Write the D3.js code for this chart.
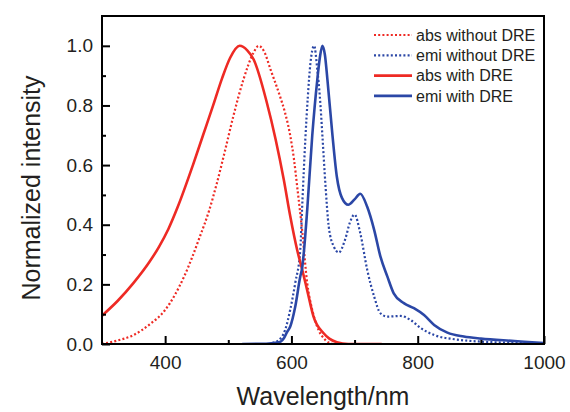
<!DOCTYPE html>
<html>
<head>
<meta charset="utf-8">
<script src="https://cdn.jsdelivr.net/npm/d3@7"></script>
<style>
  html, body { margin: 0; padding: 0; background: #fff; }
  svg { display: block; }
  text { font-family: "Liberation Sans", Arial, Helvetica, sans-serif; fill: #231f20; }
</style>
</head>
<body>
<svg id="chart" width="570" height="412"></svg>
<script>
// ---- data ----
const absWithoutWl = [300,325,350,375,400,430,455,470,482,495,508,524,540,548,557,567,582,590,598,604,609,617,625,633,643,654,665];
const absWithoutVal = [0.0,0.012,0.03,0.065,0.114,0.226,0.36,0.45,0.54,0.65,0.764,0.887,0.977,1.0,0.98,0.92,0.83,0.775,0.70,0.62,0.53,0.38,0.204,0.114,0.047,0.013,0.0];

const emiWithoutWl = [570,580,590,598,606,614,617,622,626,630,636,641,645,649,654,659,667,675,685,693,700,709,720,731,741,752,763,773,789,805,826,858,900,950,990];
const emiWithoutVal = [0.004,0.013,0.047,0.114,0.204,0.316,0.46,0.686,0.83,0.94,1.0,0.92,0.83,0.70,0.53,0.395,0.327,0.307,0.35,0.41,0.434,0.372,0.249,0.159,0.103,0.092,0.093,0.094,0.08,0.053,0.03,0.016,0.008,0.004,0.002];

const absWithWl = [300,325,350,375,390,405,420,444,460,476,490,503,518,530,540,561,575,588,598,609,617,625,635,651,660,672,690,743];
const absWithVal = [0.095,0.145,0.205,0.275,0.325,0.385,0.46,0.60,0.70,0.80,0.89,0.96,1.0,0.985,0.955,0.81,0.686,0.55,0.43,0.316,0.25,0.18,0.092,0.036,0.018,0.006,0.0,0.0];

const emiWithWl = [522,560,575,583,588,593,598,606,614,617,620,625,633,641,645,649,653,657,665,672,680,690,700,709,720,731,741,752,762,778,794,810,826,847,873,900,953,1000];
const emiWithVal = [0.0,0.001,0.004,0.008,0.019,0.04,0.058,0.125,0.226,0.255,0.316,0.45,0.70,0.887,0.96,1.0,0.97,0.887,0.70,0.56,0.49,0.467,0.485,0.504,0.46,0.383,0.293,0.226,0.17,0.137,0.12,0.097,0.064,0.038,0.025,0.018,0.01,0.003];

const seriesNames = ["abs without DRE", "emi without DRE", "abs with DRE", "emi with DRE"];
const xTickValues = [400, 600, 800, 1000];
const xMinorTicks = [500, 700, 900];
const yTickValues = [0.0, 0.2, 0.4, 0.6, 0.8, 1.0];
const yMinorTicks = [0.1, 0.3, 0.5, 0.7, 0.9];

// ---- layout ----
const RED = "#ee2a24", BLUE = "#2b47a6";
const svg = d3.select("#chart");
const L = 102, T = 16, R = 544, B = 344;
const x = d3.scaleLinear().domain([300, 1000]).range([L, R]);
const y = d3.scaleLinear().domain([0, 1.1]).range([B, T]);

const series = [
  { name: seriesNames[0], wl: absWithoutWl, v: absWithoutVal, color: RED, dotted: true },
  { name: seriesNames[1], wl: emiWithoutWl, v: emiWithoutVal, color: BLUE, dotted: true },
  { name: seriesNames[2], wl: absWithWl, v: absWithVal, color: RED, dotted: false },
  { name: seriesNames[3], wl: emiWithWl, v: emiWithVal, color: BLUE, dotted: false }
];

const line = d3.line().x(d => x(d[0])).y(d => y(d[1])).curve(d3.curveMonotoneX);

const plot = svg.append("g");
plot.append("clipPath").attr("id", "clip").append("rect")
  .attr("x", L).attr("y", T).attr("width", R - L).attr("height", B - T);

series.forEach(s => {
  const pts = s.wl.map((w, i) => [w, s.v[i]]);
  plot.append("path")
    .attr("clip-path", "url(#clip)")
    .attr("d", line(pts))
    .attr("fill", "none")
    .attr("stroke", s.color)
    .attr("stroke-width", s.dotted ? 2.2 : 2.6)
    .attr("stroke-dasharray", s.dotted ? "2,2.2" : null)
    .attr("stroke-linejoin", "round");
});

// ---- axes ----
const xAxis = d3.axisBottom(x).tickValues(xTickValues).tickFormat(d3.format("d"))
  .tickSizeInner(-8).tickSizeOuter(0).tickPadding(12);
const xMinor = d3.axisBottom(x).tickValues(xMinorTicks).tickFormat("")
  .tickSizeInner(-4).tickSizeOuter(0);
const yAxis = d3.axisLeft(y).tickValues(yTickValues).tickFormat(d3.format(".1f"))
  .tickSizeInner(-8).tickSizeOuter(0).tickPadding(9);
const yMinor = d3.axisLeft(y).tickValues(yMinorTicks).tickFormat("")
  .tickSizeInner(-4).tickSizeOuter(0);

function styleAxis(g) {
  g.select(".domain").remove();
  g.selectAll("line").attr("stroke", "#000").attr("stroke-width", 2);
  g.selectAll("text").attr("font-size", 19).attr("fill", "#231f20")
    .attr("font-family", "'Liberation Sans', Arial, sans-serif");
}
svg.append("g").attr("transform", `translate(0,${B})`).call(xAxis).call(styleAxis);
svg.append("g").attr("transform", `translate(0,${B})`).call(xMinor).call(styleAxis);
svg.append("g").attr("transform", `translate(${L},0)`).call(yAxis).call(styleAxis);
svg.append("g").attr("transform", `translate(${L},0)`).call(yMinor).call(styleAxis);

// frame
svg.append("rect").attr("x", L).attr("y", T).attr("width", R - L).attr("height", B - T)
  .attr("fill", "none").attr("stroke", "#000").attr("stroke-width", 2);

// axis titles
svg.append("text").attr("x", 323).attr("y", 405).attr("text-anchor", "middle")
  .attr("font-size", 25).text("Wavelength/nm");
svg.append("text").attr("transform", "translate(40,188) rotate(-90)")
  .attr("text-anchor", "middle").attr("font-size", 25).text("Normalized intensity");

// ---- legend ----
const leg = svg.append("g");
series.forEach((s, i) => {
  const yy = 35 + i * 20.3;
  leg.append("line").attr("x1", 374).attr("x2", 412).attr("y1", yy).attr("y2", yy)
    .attr("stroke", s.color).attr("stroke-width", s.dotted ? 2.2 : 2.6)
    .attr("stroke-dasharray", s.dotted ? "2,2.2" : null);
  leg.append("text").attr("x", 416).attr("y", yy).attr("dy", "0.36em")
    .attr("font-size", 16).text(s.name);
});
</script>
</body>
</html>
